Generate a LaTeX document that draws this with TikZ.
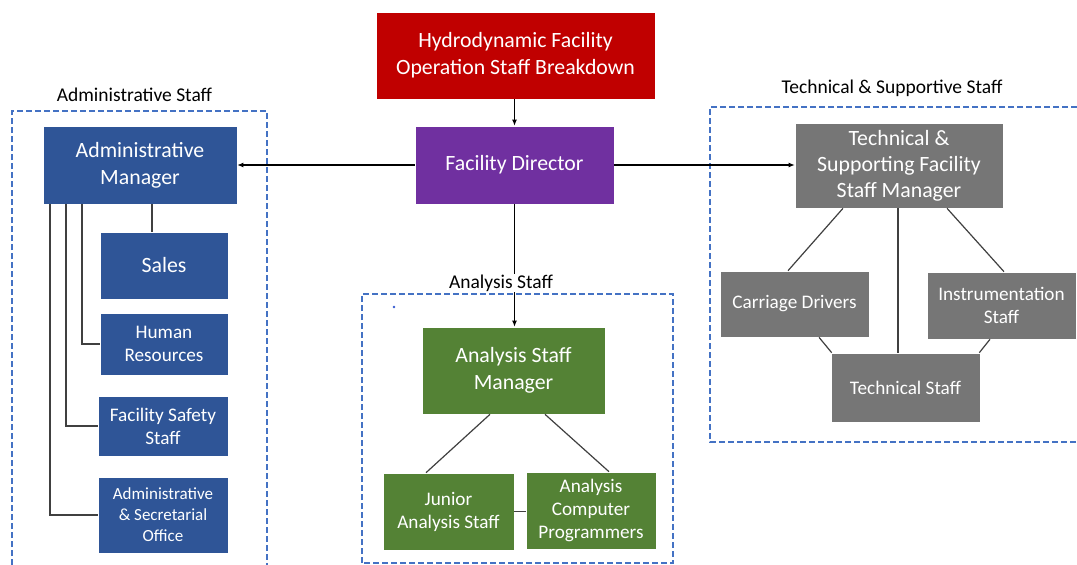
\documentclass[tikz,border=0pt]{standalone}
\usepackage{fontspec}
\setmainfont{Carlito}
\usetikzlibrary{arrows.meta}
\definecolor{cred}{HTML}{C00000}
\definecolor{cpurple}{HTML}{7030A0}
\definecolor{cblue}{HTML}{2F5597}
\definecolor{cgreen}{HTML}{548235}
\definecolor{cgray}{HTML}{767676}
\definecolor{cdash}{HTML}{4472C4}
\definecolor{cline}{HTML}{404040}
\tikzset{
  box/.style={rectangle, inner sep=2pt, text=white, align=center, draw=white, line width=0.6pt},
  bigtxt/.style={font=\fontsize{21.8}{27}\selectfont},
  midtxt/.style={font=\fontsize{19.2}{23}\selectfont},
  smalltxt/.style={font=\fontsize{17}{21}\selectfont},
  grouplabel/.style={font=\fontsize{19.5}{22}\selectfont, text=black, inner sep=1pt},
  groupbox/.style={draw=cdash, line width=1.5pt, dash pattern=on 6pt off 3pt},
  conn/.style={draw=cline, line width=1.2pt},
  arr/.style={draw=black, line width=1.1pt, -{Latex[length=6pt,width=5pt]}},
}
\begin{document}
\begin{tikzpicture}[x=1pt,y=-1pt]
\useasboundingbox[fill=white] (0,0) rectangle (1077,565);

% group frames
\draw[groupbox] (12,565) -- (12,111) -- (267,111) -- (267,565);
\draw[groupbox] (362,563) -- (362,294) -- (673,294) -- (673,563) -- cycle;
\draw[groupbox] (1077,107) -- (710,107) -- (710,442) -- (1077,442);
\fill[cdash!80!blue] (394,307) circle (1.3);

% nodes
\node[box, bigtxt, fill=cred, minimum width=279, minimum height=87] (title) at (515.5,55.5) {Hydrodynamic Facility\\Operation Staff Breakdown};
\node[box, bigtxt, fill=cpurple, minimum width=199, minimum height=78] (dir) at (514.5,165) {Facility Director};

\node[box, bigtxt, fill=cblue, minimum width=194, minimum height=78] (adm) at (140,165) {Administrative\\Manager};
\node[box, bigtxt, fill=cblue, minimum width=128, minimum height=67] (sales) at (164,265.5) {Sales};
\node[box, midtxt, fill=cblue, minimum width=128, minimum height=62] (hr) at (164,344) {Human\\Resources};
\node[box, midtxt, fill=cblue, minimum width=130, minimum height=60] (fss) at (163,426) {Facility Safety\\Staff};
\node[box, smalltxt, fill=cblue, minimum width=130, minimum height=76] (aso) at (163,515) {Administrative\\\& Secretarial\\Office};

\node[box, bigtxt, fill=cgreen, minimum width=183, minimum height=87] (asm) at (513.5,370.5) {Analysis Staff\\Manager};
\node[box, midtxt, fill=cgreen, minimum width=131, minimum height=77] (jas) at (448.5,511.5) {Junior\\Analysis Staff};
\node[box, midtxt, fill=cgreen, minimum width=130, minimum height=77] (acp) at (591,510.5) {Analysis\\Computer\\Programmers};

\node[box, bigtxt, fill=cgray, minimum width=208, minimum height=85, font=\fontsize{21.8}{26}\selectfont] (tm) at (899,165.5) {Technical \&\\Supporting Facility\\Staff Manager};
\node[box, midtxt, fill=cgray, minimum width=149, minimum height=66] (cd) at (794.5,304) {Carriage Drivers};
\node[box, midtxt, fill=cgray, minimum width=149, minimum height=67] (is) at (1001.5,305.5) {Instrumentation\\Staff};
\node[box, midtxt, fill=cgray, minimum width=149, minimum height=69] (ts) at (905.5,387.5) {Technical Staff};

% connectors
\draw[arr] (dir.north |- title.south) -- (dir.north);
\draw[arr] (dir.west) -- (adm.east);
\draw[arr] (dir.east) -- (dir.east -| tm.west);
\draw[arr] (dir.south) -- (dir.south |- asm.north);

\draw[conn] ([xshift=12pt]adm.south) -- ([xshift=-12pt]sales.north);
\draw[conn] ([xshift=-58pt]adm.south) |- (hr.west);
\draw[conn] ([xshift=-74pt]adm.south) |- (fss.west);
\draw[conn] ([xshift=-90pt]adm.south) |- (aso.west);

\draw[conn] ([xshift=-23.5pt]asm.south) -- ([xshift=-22.5pt]jas.north);
\draw[conn] ([xshift=31.5pt]asm.south) -- ([xshift=18pt]acp.north);
\draw[conn] (jas.east) -- (jas.east -| acp.west);

\draw[conn] ([xshift=-56pt]tm.south) -- ([xshift=-6.5pt]cd.north);
\draw[conn] ([xshift=-1pt]tm.south) -- ([xshift=-7.5pt]ts.north);
\draw[conn] ([xshift=48pt]tm.south) -- ([xshift=2.5pt]is.north);
\draw[conn] ([xshift=24.5pt]cd.south) -- ([xshift=1pt]ts.north west);
\draw[conn] ([xshift=-11.5pt]is.south) -- ([xshift=-1pt]ts.north east);

% group labels
\node[grouplabel, fill=white] (lbladm) at (134.5,95) {Administrative Staff};
\node[grouplabel, fill=white] (lblana) at (501,283) {Analysis Staff};
\node[grouplabel, fill=white] (lbltec) at (892,88) {Technical \& Supportive Staff};
\end{tikzpicture}
\end{document}
